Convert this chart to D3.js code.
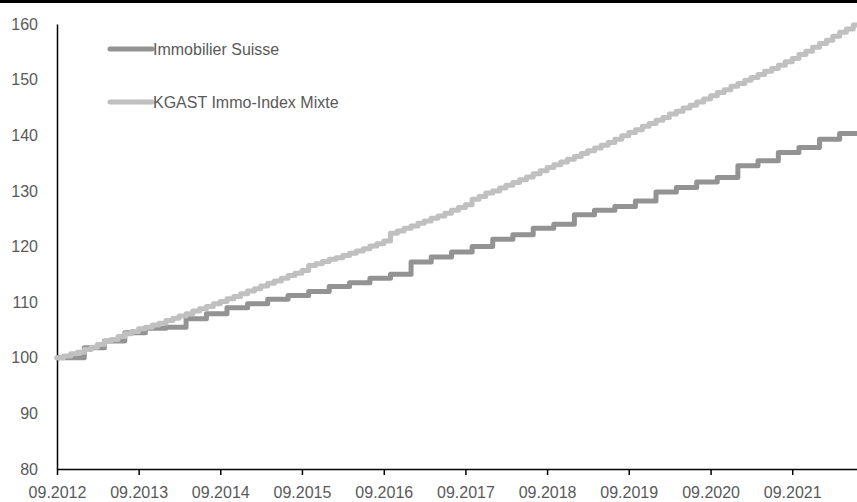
<!DOCTYPE html>
<html>
<head>
<meta charset="utf-8">
<script src="https://cdn.jsdelivr.net/npm/d3@7"></script>
<style>
  body { margin: 0; background: #fff; }
  svg { display: block; font-family: "Liberation Sans", Arial, sans-serif; }
</style>
</head>
<body>
<script>
// series names
var seriesNames = ["Immobilier Suisse", "KGAST Immo-Index Mixte"];

// Immobilier Suisse: quarterly values (month when the new value starts)
var suisseMonths = ["2012-09", "2013-01", "2013-04", "2013-07", "2013-10", "2014-01", "2014-04", "2014-07", "2014-10",
    "2015-01", "2015-04", "2015-07", "2015-10", "2016-01", "2016-04", "2016-07", "2016-10",
    "2017-01", "2017-04", "2017-07", "2017-10", "2018-01", "2018-04", "2018-07", "2018-10",
    "2019-01", "2019-04", "2019-07", "2019-10", "2020-01", "2020-04", "2020-07", "2020-10",
    "2021-01", "2021-04", "2021-07", "2021-10", "2022-01", "2022-04"];
var suisseValues = [100.0, 101.8, 103.0, 104.5, 105.3, 105.5, 107.0, 107.9, 109.0,
    109.7, 110.5, 111.2, 111.9, 112.8, 113.5, 114.3, 115.0,
    117.2, 118.1, 119.0, 120.0, 121.3, 122.1, 123.3, 124.0,
    125.7, 126.5, 127.2, 128.2, 129.8, 130.6, 131.6, 132.4,
    134.5, 135.4, 136.9, 137.8, 139.3, 140.3];

// KGAST Immo-Index Mixte: monthly values from 09.2012 to 06.2022
var kgastStart = "2012-09";
var kgastValues = [100.0, 100.3, 100.7, 101.0, 101.5, 101.9, 102.4, 102.9, 103.3, 103.8, 104.3, 104.7,
    105.2, 105.5, 105.9, 106.2, 106.7, 107.1, 107.5, 107.9, 108.4, 108.8, 109.2, 109.7,
    110.1, 110.6, 111.0, 111.5, 112.0, 112.4, 112.9, 113.4, 113.8, 114.3, 114.8, 115.2,
    115.7, 116.6, 116.9, 117.3, 117.7, 118.0, 118.4, 118.8, 119.2, 119.6, 120.1, 120.5,
    121.0, 122.4, 122.8, 123.3, 123.7, 124.2, 124.6, 125.1, 125.5, 126.0, 126.5, 127.0,
    127.5, 128.5, 129.0, 129.6, 130.0, 130.5, 131.0, 131.5, 132.0, 132.5, 133.1, 133.6,
    134.2, 134.7, 135.2, 135.7, 136.2, 136.7, 137.2, 137.7, 138.2, 138.7, 139.3, 139.9,
    140.5, 141.0, 141.6, 142.1, 142.7, 143.2, 143.8, 144.3, 144.9, 145.4, 146.0, 146.5,
    147.1, 147.7, 148.2, 148.8, 149.3, 149.9, 150.4, 150.9, 151.5, 152.0, 152.6, 153.2,
    153.8, 154.5, 155.1, 155.8, 156.5, 157.1, 157.8, 158.5, 159.1, 159.8];

// axis labels
var yTicks = [80, 90, 100, 110, 120, 130, 140, 150, 160];
var xTickMonths = ["2012-09", "2013-09", "2014-09", "2015-09", "2016-09", "2017-09", "2018-09", "2019-09", "2020-09", "2021-09"];
var endMonth = "2022-07";

var width = 857,
    height = 502,
    margin = { top: 24, left: 57, bottom: 33 },
    colors = ["#939393", "#c0c0c0"];

var parseMonth = d3.timeParse("%Y-%m");
var fmt = d3.timeFormat("%m.%Y");

var x = d3.scaleTime()
    .domain([parseMonth(xTickMonths[0]), parseMonth(endMonth)])
    .range([margin.left, 860]);

var y = d3.scaleLinear()
    .domain([80, 160])
    .range([height - margin.bottom, margin.top]);

var svg = d3.select("body").append("svg")
    .attr("width", width)
    .attr("height", height);

// black strip at the top
svg.append("rect")
    .attr("x", 0).attr("y", 0)
    .attr("width", width).attr("height", 3)
    .attr("fill", "#000");

// data omzetten naar punten
var suisse = suisseMonths.map(function (m, i) {
    return { date: parseMonth(m), value: suisseValues[i] };
});
suisse.push({ date: parseMonth(endMonth), value: suisseValues[suisseValues.length - 1] });

var kgast = kgastValues.map(function (v, i) {
    return { date: d3.timeMonth.offset(parseMonth(kgastStart), i), value: v };
});
kgast.push({ date: parseMonth(endMonth), value: kgastValues[kgastValues.length - 1] });

var line = d3.line()
    .curve(d3.curveStepAfter)
    .x(function (d) { return x(d.date); })
    .y(function (d) { return y(d.value); });

// y axis (labels only, plus the line)
var yAxis = svg.append("g")
    .attr("transform", "translate(" + margin.left + ",0)")
    .call(d3.axisLeft(y).tickValues(yTicks).tickSize(0).tickPadding(19));
yAxis.select(".domain").attr("stroke", "#000").attr("stroke-width", 1.5);
yAxis.selectAll("text")
    .attr("fill", "#595959")
    .style("font-size", "16px");

// x axis
var xAxis = svg.append("g")
    .attr("transform", "translate(0," + y(80) + ")")
    .call(d3.axisBottom(x)
        .tickValues(xTickMonths.map(parseMonth))
        .tickFormat(fmt)
        .tickSizeInner(6)
        .tickSizeOuter(0)
        .tickPadding(12));
xAxis.select(".domain").attr("stroke", "#000").attr("stroke-width", 1.5);
xAxis.selectAll(".tick line").attr("stroke", "#000").attr("stroke-width", 1.5);
xAxis.selectAll("text")
    .attr("fill", "#595959")
    .style("font-size", "16px");

// lines
var series = [suisse, kgast];
series.forEach(function (s, i) {
    svg.append("path")
        .datum(s)
        .attr("fill", "none")
        .attr("stroke", colors[i])
        .attr("stroke-width", 5)
        .attr("stroke-linejoin", "round")
        .attr("stroke-linecap", "round")
        .attr("d", line);
});

// legend
var legend = svg.selectAll(".legend")
    .data(seriesNames)
    .enter().append("g")
    .attr("class", "legend")
    .attr("transform", function (d, i) { return "translate(110," + (49 + i * 53) + ")"; });

legend.append("line")
    .attr("x1", 0).attr("x2", 42)
    .attr("stroke", function (d, i) { return colors[i]; })
    .attr("stroke-width", 5)
    .attr("stroke-linecap", "round");

legend.append("text")
    .attr("x", 43)
    .attr("dy", "0.35em")
    .attr("fill", "#595959")
    .style("font-size", "16px")
    .text(function (d) { return d; });
</script>
</body>
</html>
